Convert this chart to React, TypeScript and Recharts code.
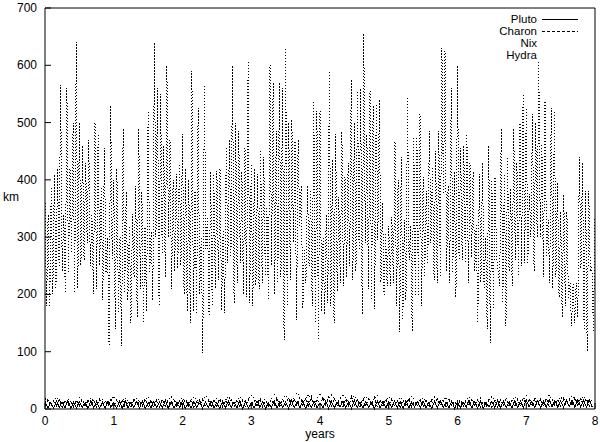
import { LineChart, Line, XAxis, YAxis } from "recharts";

// Hydra: one near-vertical stroke every 1/22 year, high then low value (km)
const hydraHigh = [
  365, 340, 390, 410, 420, 565, 340, 560, 420, 500,
  640, 500, 460, 430, 470, 340, 500, 480, 390, 455,
  300, 530, 400, 420, 300, 490, 380, 320, 340, 390,
  490, 380, 320, 520, 310, 640, 560, 550, 460, 600,
  470, 400, 410, 430, 480, 420, 400, 590, 380, 525,
  300, 568, 335, 415, 410, 415, 420, 310, 455, 470,
  600, 500, 485, 415, 455, 610, 430, 420, 410, 450,
  440, 350, 600, 570, 485, 570, 560, 630, 500, 505,
  470, 470, 390, 280, 390, 380, 540, 520, 520, 300,
  340, 590, 435, 480, 370, 485, 405, 430, 575, 500,
  555, 560, 655, 480, 555, 530, 535, 540, 360, 305,
  320, 335, 470, 400, 440, 330, 545, 320, 475, 475,
  515, 405, 380, 485, 420, 450, 485, 630, 625, 390,
  560, 415, 600, 455, 460, 480, 430, 415, 325, 410,
  430, 300, 460, 400, 405, 240, 490, 410, 440, 385,
  490, 430, 500, 550, 525, 375, 515, 500, 608, 460,
  540, 330, 525, 520, 395, 345, 375, 345, 220, 220,
  220, 440, 430, 380, 380, 250, 335,
];
const hydraLow = [
  180, 176, 200, 210, 250, 240, 200, 235, 270, 200,
  210, 250, 260, 290, 250, 200, 210, 250, 190, 235,
  110, 260, 140, 170, 110, 200, 190, 150, 230, 160,
  210, 150, 170, 240, 190, 300, 180, 270, 230, 300,
  210, 240, 245, 250, 200, 170, 150, 170, 165, 200,
  97, 280, 160, 180, 210, 225, 172, 168, 255, 265,
  185, 220, 255, 200, 195, 185, 180, 215, 210, 220,
  230, 190, 250, 200, 220, 230, 120, 180, 225, 290,
  155, 320, 175, 220, 250, 180, 150, 120, 170, 165,
  185, 180, 150, 205, 220, 215, 230, 250, 225, 240,
  280, 165, 290, 210, 190, 175, 295, 220, 195, 215,
  215, 220, 180, 135, 155, 190, 260, 135, 195, 195,
  180, 230, 255, 290, 225, 220, 230, 375, 240, 220,
  240, 195, 260, 260, 255, 220, 265, 240, 150, 220,
  210, 140, 115, 175, 265, 215, 185, 145, 240, 215,
  260, 230, 250, 255, 255, 300, 240, 300, 300, 230,
  265, 220, 210, 230, 195, 160, 180, 190, 145, 150,
  160, 245, 140, 100, 240, 135, 180,
];

// Pluto / Charon: 12 wiggles a year
const plutoHigh = [
  13, 11, 14, 12, 15, 12, 13, 11, 14, 13, 12, 14, 11, 13, 15, 12, 13, 14, 11, 13,
  12, 15, 13, 11, 14, 12, 13, 15, 12, 14, 11, 13, 14, 12, 15, 13, 12, 14, 13, 11,
  14, 13, 12, 15, 13, 14, 12, 13, 11, 14, 13, 12, 14, 13, 15, 12, 13, 11, 14, 13,
  12, 14, 13, 15, 12, 13, 14, 12, 13, 15, 12, 14, 13, 12, 15, 13, 14, 12, 13, 15,
  14, 13, 15, 14, 16, 13, 15, 14, 16, 15, 14, 16, 15, 17, 15, 16,
];
const plutoLow = [
  2, 1, 3, 2, 1, 2, 3, 1, 2, 2, 1, 3, 2, 1, 2, 3, 2, 1, 2, 3,
  2, 1, 2, 3, 1, 2, 2, 1, 3, 2, 1, 2, 3, 2, 1, 2, 2, 3, 1, 2,
  2, 3, 1, 2, 2, 1, 3, 2, 2, 1, 2, 3, 2, 1, 2, 2, 3, 1, 2, 2,
  3, 2, 1, 2, 3, 2, 2, 1, 2, 3, 2, 1, 2, 3, 2, 2, 1, 3, 2, 2,
  3, 2, 3, 2, 4, 3, 2, 3, 4, 3, 3, 4, 3, 4, 3, 4,
];
const charonHigh = [
  16, 14, 17, 15, 13, 16, 18, 14, 15, 17, 14, 16, 15, 17, 13, 16, 14, 18, 15, 16,
  17, 14, 16, 15, 18, 16, 14, 17, 15, 16, 18, 15, 17, 16, 14, 17, 16, 18, 15, 17,
  19, 17, 20, 18, 21, 19, 22, 18, 20, 21, 19, 20, 18, 21, 17, 19, 18, 20, 16, 18,
  17, 15, 16, 18, 14, 17, 15, 16, 18, 15, 17, 14, 16, 15, 17, 16, 14, 17, 15, 16,
  18, 16, 17, 19, 16, 18, 17, 19, 18, 17, 19, 18, 20, 18, 19, 20,
];
const charonLow = [
  5, 4, 6, 3, 5, 4, 6, 5, 4, 3, 5, 6, 4, 5, 3, 4, 6, 5, 4, 5,
  3, 4, 6, 5, 4, 5, 3, 6, 4, 5, 5, 4, 6, 3, 5, 4, 5, 6, 4, 5,
  6, 5, 7, 6, 5, 7, 6, 5, 7, 6, 5, 6, 4, 5, 6, 4, 5, 6, 4, 5,
  4, 5, 3, 6, 4, 5, 4, 3, 5, 6, 4, 5, 3, 4, 6, 5, 4, 5, 3, 4,
  5, 6, 4, 5, 6, 5, 6, 4, 5, 6, 5, 6, 5, 7, 6, 5,
];
// Nix: 6 wiggles a year
const nixHigh = [
  18, 20, 17, 21, 19, 18, 22, 20, 19, 21, 20, 22, 19, 21, 23, 20, 22, 21, 24, 22,
  26, 24, 28, 25, 27, 24, 26, 23, 22, 24, 21, 20, 22, 19, 21, 20, 18, 21, 19, 22,
  20, 21, 23, 22, 24, 21, 23, 22,
];
const nixLow = [
  8, 9, 7, 10, 8, 9, 8, 10, 9, 8, 9, 10, 8, 9, 10, 9, 8, 10, 11, 9,
  10, 12, 11, 10, 12, 11, 10, 9, 10, 8, 9, 10, 8, 9, 10, 8, 9, 10, 8, 9,
  10, 9, 11, 10, 9, 11, 10, 9,
];

const YEARS = 8;
const xTicks = [0, 1, 2, 3, 4, 5, 6, 7, 8];
const yTicks = [0, 100, 200, 300, 400, 500, 600, 700];

function zigzag(first: number[], second: number[], perYear: number) {
  const step = 1 / perYear;
  const pts: { t: number; v: number }[] = [];
  first.forEach((a, i) => {
    pts.push({ t: i * step, v: a });
    const t2 = i * step + step / 2;
    if (t2 <= YEARS) pts.push({ t: t2, v: second[i] });
  });
  return pts;
}

const hydraData = zigzag(hydraHigh, hydraLow, 22);
const plutoData = zigzag(plutoHigh, plutoLow, 12);
const charonData = zigzag(charonLow, charonHigh, 12);
const nixData = zigzag(nixHigh, nixLow, 6);

const FONT = "'Liberation Sans', Arial, sans-serif";
const PL = 45; // plot left
const PR = 595; // plot right
const PT = 8; // plot top
const PB = 409; // plot bottom
const TICK = 6;

const LeftTick = (p: any) => (
  <g>
    <line x1={PL} x2={PL + TICK} y1={p.y} y2={p.y} stroke="#000" />
    <text x={PL - 8} y={p.y + 4} textAnchor="end" fontSize={12} fontFamily={FONT} fill="#000">
      {p.payload.value}
    </text>
  </g>
);
const RightTick = (p: any) => (
  <line x1={PR - TICK} x2={PR} y1={p.y} y2={p.y} stroke="#000" />
);
const BottomTick = (p: any) => (
  <g>
    <line x1={p.x} x2={p.x} y1={PB} y2={PB - TICK} stroke="#000" />
    <text x={p.x} y={PB + 16} textAnchor="middle" fontSize={12} fontFamily={FONT} fill="#000">
      {p.payload.value}
    </text>
  </g>
);
const TopTick = (p: any) => (
  <line x1={p.x} x2={p.x} y1={PT} y2={PT + TICK} stroke="#000" />
);

const legendItems = [
  { name: "Pluto", dash: undefined as string | undefined, show: true },
  { name: "Charon", dash: "3 2", show: true },
  { name: "Nix", dash: "1 2", show: false },
  { name: "Hydra", dash: "1 1", show: false },
];

function KeyBox() {
  return (
    <svg
      width={600}
      height={70}
      style={{ position: "absolute", left: 0, top: 0, pointerEvents: "none" }}
    >
      {legendItems.map((it, i) => (
        <g key={it.name}>
          <text x={537} y={22.5 + i * 12.3} textAnchor="end" fontSize={11.5} fontFamily={FONT} fill="#000">
            {it.name}
          </text>
          {it.show && (
            <line
              x1={542}
              x2={578}
              y1={19 + i * 12.3}
              y2={19 + i * 12.3}
              stroke="#000"
              strokeDasharray={it.dash}
              shapeRendering="crispEdges"
            />
          )}
        </g>
      ))}
    </svg>
  );
}

export default function App() {
  return (
    <div style={{ position: "absolute", left: 0, top: 0, width: 600, height: 442, background: "#fff" }}>
      <LineChart width={600} height={442} margin={{ top: 0, right: 0, left: 0, bottom: 0 }}>
        <XAxis
          dataKey="t"
          type="number"
          domain={[0, YEARS]}
          ticks={xTicks}
          interval={0}
          height={442 - PB}
          axisLine={{ stroke: "#000" }}
          tickLine={false}
          tick={BottomTick}
          allowDuplicatedCategory={false}
          label={{ value: "years", position: "insideBottom", offset: 4, fontSize: 12, fontFamily: FONT, fill: "#000" }}
        />
        <XAxis
          xAxisId="top"
          orientation="top"
          dataKey="t"
          type="number"
          domain={[0, YEARS]}
          ticks={xTicks}
          interval={0}
          height={PT}
          axisLine={{ stroke: "#000" }}
          tickLine={false}
          tick={TopTick}
        />
        <YAxis
          type="number"
          domain={[0, 700]}
          ticks={yTicks}
          interval={0}
          width={PL}
          axisLine={{ stroke: "#000" }}
          tickLine={false}
          tick={LeftTick}
          label={{ value: "km", position: "insideLeft", offset: 3, dy: -12, fontSize: 12, fontFamily: FONT, fill: "#000" }}
        />
        <YAxis
          yAxisId="r"
          orientation="right"
          type="number"
          domain={[0, 700]}
          ticks={yTicks}
          interval={0}
          width={600 - PR}
          axisLine={{ stroke: "#000" }}
          tickLine={false}
          tick={RightTick}
        />
        <Line
          data={hydraData}
          dataKey="v"
          name="Hydra"
          stroke="#000"
          strokeWidth={1}
          strokeDasharray="1 2"
          shapeRendering="crispEdges"
          dot={false}
          type="linear"
          isAnimationActive={false}
        />
        <Line
          data={nixData}
          dataKey="v"
          name="Nix"
          stroke="#000"
          strokeWidth={1}
          strokeDasharray="1 2"
          shapeRendering="crispEdges"
          dot={false}
          type="linear"
          isAnimationActive={false}
        />
        <Line
          data={charonData}
          dataKey="v"
          name="Charon"
          stroke="#000"
          strokeWidth={1}
          strokeDasharray="3 2"
          shapeRendering="crispEdges"
          dot={false}
          type="linear"
          isAnimationActive={false}
        />
        <Line
          data={plutoData}
          dataKey="v"
          name="Pluto"
          stroke="#000"
          strokeWidth={1}
          shapeRendering="crispEdges"
          dot={false}
          type="linear"
          isAnimationActive={false}
        />
      </LineChart>
      <KeyBox />
    </div>
  );
}
